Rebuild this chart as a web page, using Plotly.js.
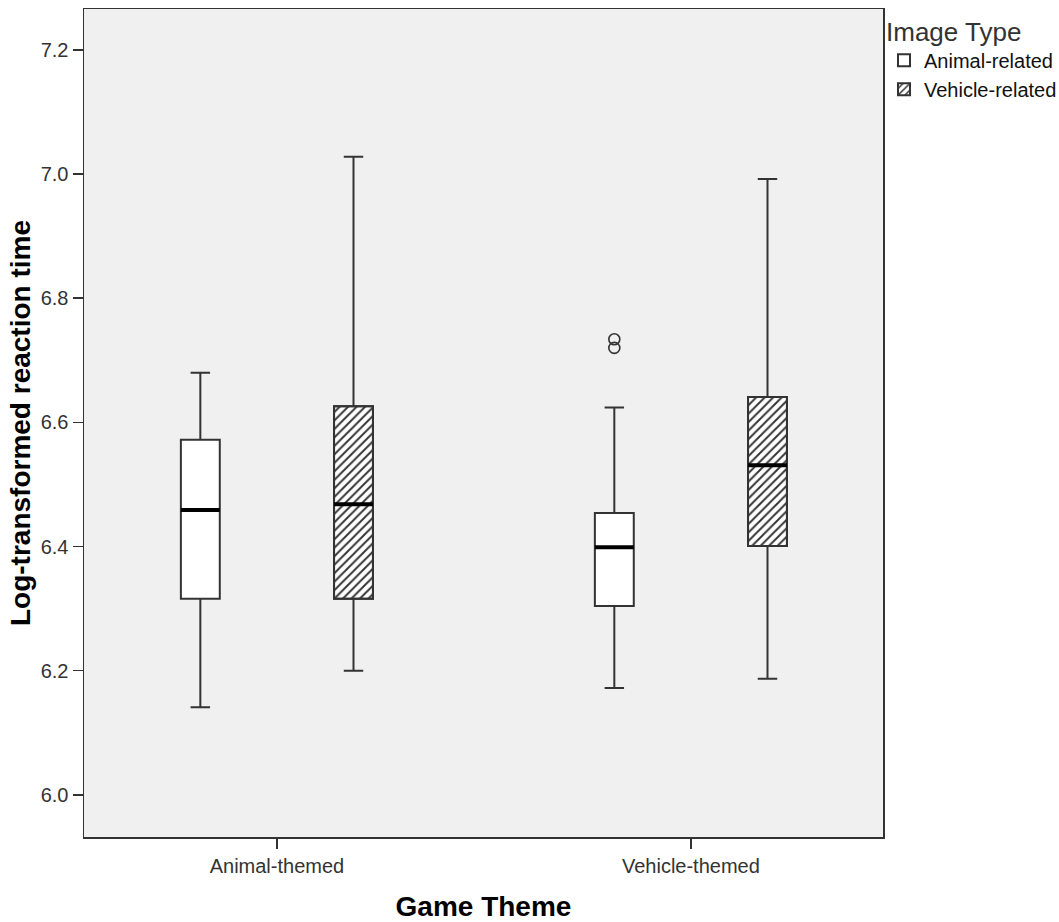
<!DOCTYPE html>
<html>
<head>
<meta charset="utf-8">
<script src="https://cdn.plot.ly/plotly-3.0.1.min.js"></script>
<style>html,body{margin:0;padding:0;background:#fff;}#chart{width:1059px;height:922px;}</style>
</head>
<body>
<div id="chart"></div>
<script>
// ---- data ----
const categories = ['Animal-themed', 'Vehicle-themed'];
const seriesNames = ['Animal-related', 'Vehicle-related'];

const animalLower  = [6.141, 6.172];
const animalQ1     = [6.316, 6.304];
const animalMedian = [6.459, 6.399];
const animalQ3     = [6.572, 6.454];
const animalUpper  = [6.680, 6.624];
// outliers (only in the Vehicle-themed / Animal-related box)
const outlierCategory = ['Vehicle-themed', 'Vehicle-themed'];
const outlierValues   = [6.720, 6.734];

const vehicleLower  = [6.200, 6.187];
const vehicleQ1     = [6.316, 6.401];
const vehicleMedian = [6.468, 6.531];
const vehicleQ3     = [6.626, 6.641];
const vehicleUpper  = [7.028, 6.992];

const yTicks = [6.0, 6.2, 6.4, 6.6, 6.8, 7.0, 7.2];

// ---- styling ----
const FONT = 'Liberation Sans, Arial, sans-serif';
const INK = '#333333';
const BOXGAP = 0.26, GROUPGAP = 0.746;
const slot = (1 - BOXGAP) / 2;
const boxW = slot * (1 - GROUPGAP);
const centerOff = (1 - BOXGAP) / 4;
const LW = 2;

const boxCommon = {
  type: 'box', x: categories,
  line: {color: INK, width: LW},
  whiskerwidth: 0.5,
  hoverinfo: 'skip'
};

const traces = [
  // hatch fill for vehicle-related boxes (bar spanning Q1..Q3)
  {
    type: 'bar', name: seriesNames[1], legendrank: 2,
    x: categories,
    base: vehicleQ1,
    y: vehicleQ3.map((v, i) => v - vehicleQ1[i]),
    width: boxW, offset: centerOff - boxW / 2,
    marker: {
      color: 'white',
      line: {color: INK, width: LW},
      pattern: {shape: '/', fgcolor: INK, bgcolor: 'white', size: 6, solidity: 0.32}
    },
    hoverinfo: 'skip', showlegend: true
  },
  Object.assign({}, boxCommon, {
    name: seriesNames[0], legendrank: 1, offsetgroup: 'A',
    q1: animalQ1, median: animalMedian, q3: animalQ3,
    lowerfence: animalLower, upperfence: animalUpper,
    fillcolor: 'white', boxpoints: false
  }),
  Object.assign({}, boxCommon, {
    name: seriesNames[1], offsetgroup: 'V', showlegend: false,
    q1: vehicleQ1, median: vehicleMedian, q3: vehicleQ3,
    lowerfence: vehicleLower, upperfence: vehicleUpper,
    fillcolor: 'rgba(0,0,0,0)', boxpoints: false
  }),
  // thick median lines
  Object.assign({}, boxCommon, {
    name: 'medA', offsetgroup: 'A', showlegend: false,
    q1: animalMedian, median: animalMedian, q3: animalMedian,
    lowerfence: animalMedian, upperfence: animalMedian,
    line: {color: '#000', width: 4}, whiskerwidth: 0,
    fillcolor: 'rgba(0,0,0,0)', boxpoints: false
  }),
  Object.assign({}, boxCommon, {
    name: 'medV', offsetgroup: 'V', showlegend: false,
    q1: vehicleMedian, median: vehicleMedian, q3: vehicleMedian,
    lowerfence: vehicleMedian, upperfence: vehicleMedian,
    line: {color: '#000', width: 4}, whiskerwidth: 0,
    fillcolor: 'rgba(0,0,0,0)', boxpoints: false
  }),
  // outlier points
  {
    type: 'box', name: 'outliers', offsetgroup: 'A', showlegend: false,
    x: outlierCategory, y: outlierValues,
    boxpoints: 'all', pointpos: 0, jitter: 0,
    line: {color: 'rgba(0,0,0,0)', width: 0}, fillcolor: 'rgba(0,0,0,0)', whiskerwidth: 0,
    marker: {symbol: 'circle-open', size: 11, color: INK, line: {width: 1.6, color: INK}},
    hoverinfo: 'skip'
  }
];

const layout = {
  width: 1059, height: 922,
  margin: {l: 84, r: 176, t: 9, b: 85, pad: 0},
  paper_bgcolor: 'white', plot_bgcolor: '#f0f0f0',
  font: {family: FONT, color: INK, size: 20},
  boxmode: 'group', boxgap: BOXGAP, boxgroupgap: GROUPGAP,
  showlegend: true,
  legend: {
    xref: 'container', yref: 'container',
    x: 884 / 1059, xanchor: 'left', y: 1 - 7 / 922, yanchor: 'top',
    title: {text: 'Image Type', font: {size: 26, color: INK, family: FONT}, side: 'top'},
    font: {size: 20, color: '#111', family: FONT},
    bgcolor: 'rgba(0,0,0,0)', tracegroupgap: 0, itemwidth: 30,
    traceorder: 'normal'
  },
  xaxis: {
    type: 'category', categoryorder: 'array', categoryarray: categories,
    range: [-0.466, 1.464], fixedrange: true,
    showline: true, mirror: true, linecolor: INK, linewidth: 1.5,
    ticks: 'outside', ticklen: 10, tickwidth: 1.5, tickcolor: INK,
    showgrid: false, zeroline: false,
    tickfont: {size: 20, color: INK, family: FONT},
    title: {text: 'Game Theme', font: {size: 28, color: '#000', family: FONT, weight: 'bold'}, standoff: 24}
  },
  yaxis: {
    range: [5.932, 7.266], fixedrange: true,
    tickvals: yTicks, ticktext: yTicks.map(v => v.toFixed(1)),
    showline: true, mirror: true, linecolor: INK, linewidth: 1.5,
    ticks: 'outside', ticklen: 10, tickwidth: 1.5, tickcolor: INK,
    showgrid: false, zeroline: false,
    tickfont: {size: 20, color: INK, family: FONT},
    title: {text: 'Log-transformed reaction time', font: {size: 28, color: '#000', family: FONT, weight: 'bold'}, standoff: 2}
  }
};

Plotly.newPlot('chart', traces, layout, {displayModeBar: false, staticPlot: true});
</script>
</body>
</html>
